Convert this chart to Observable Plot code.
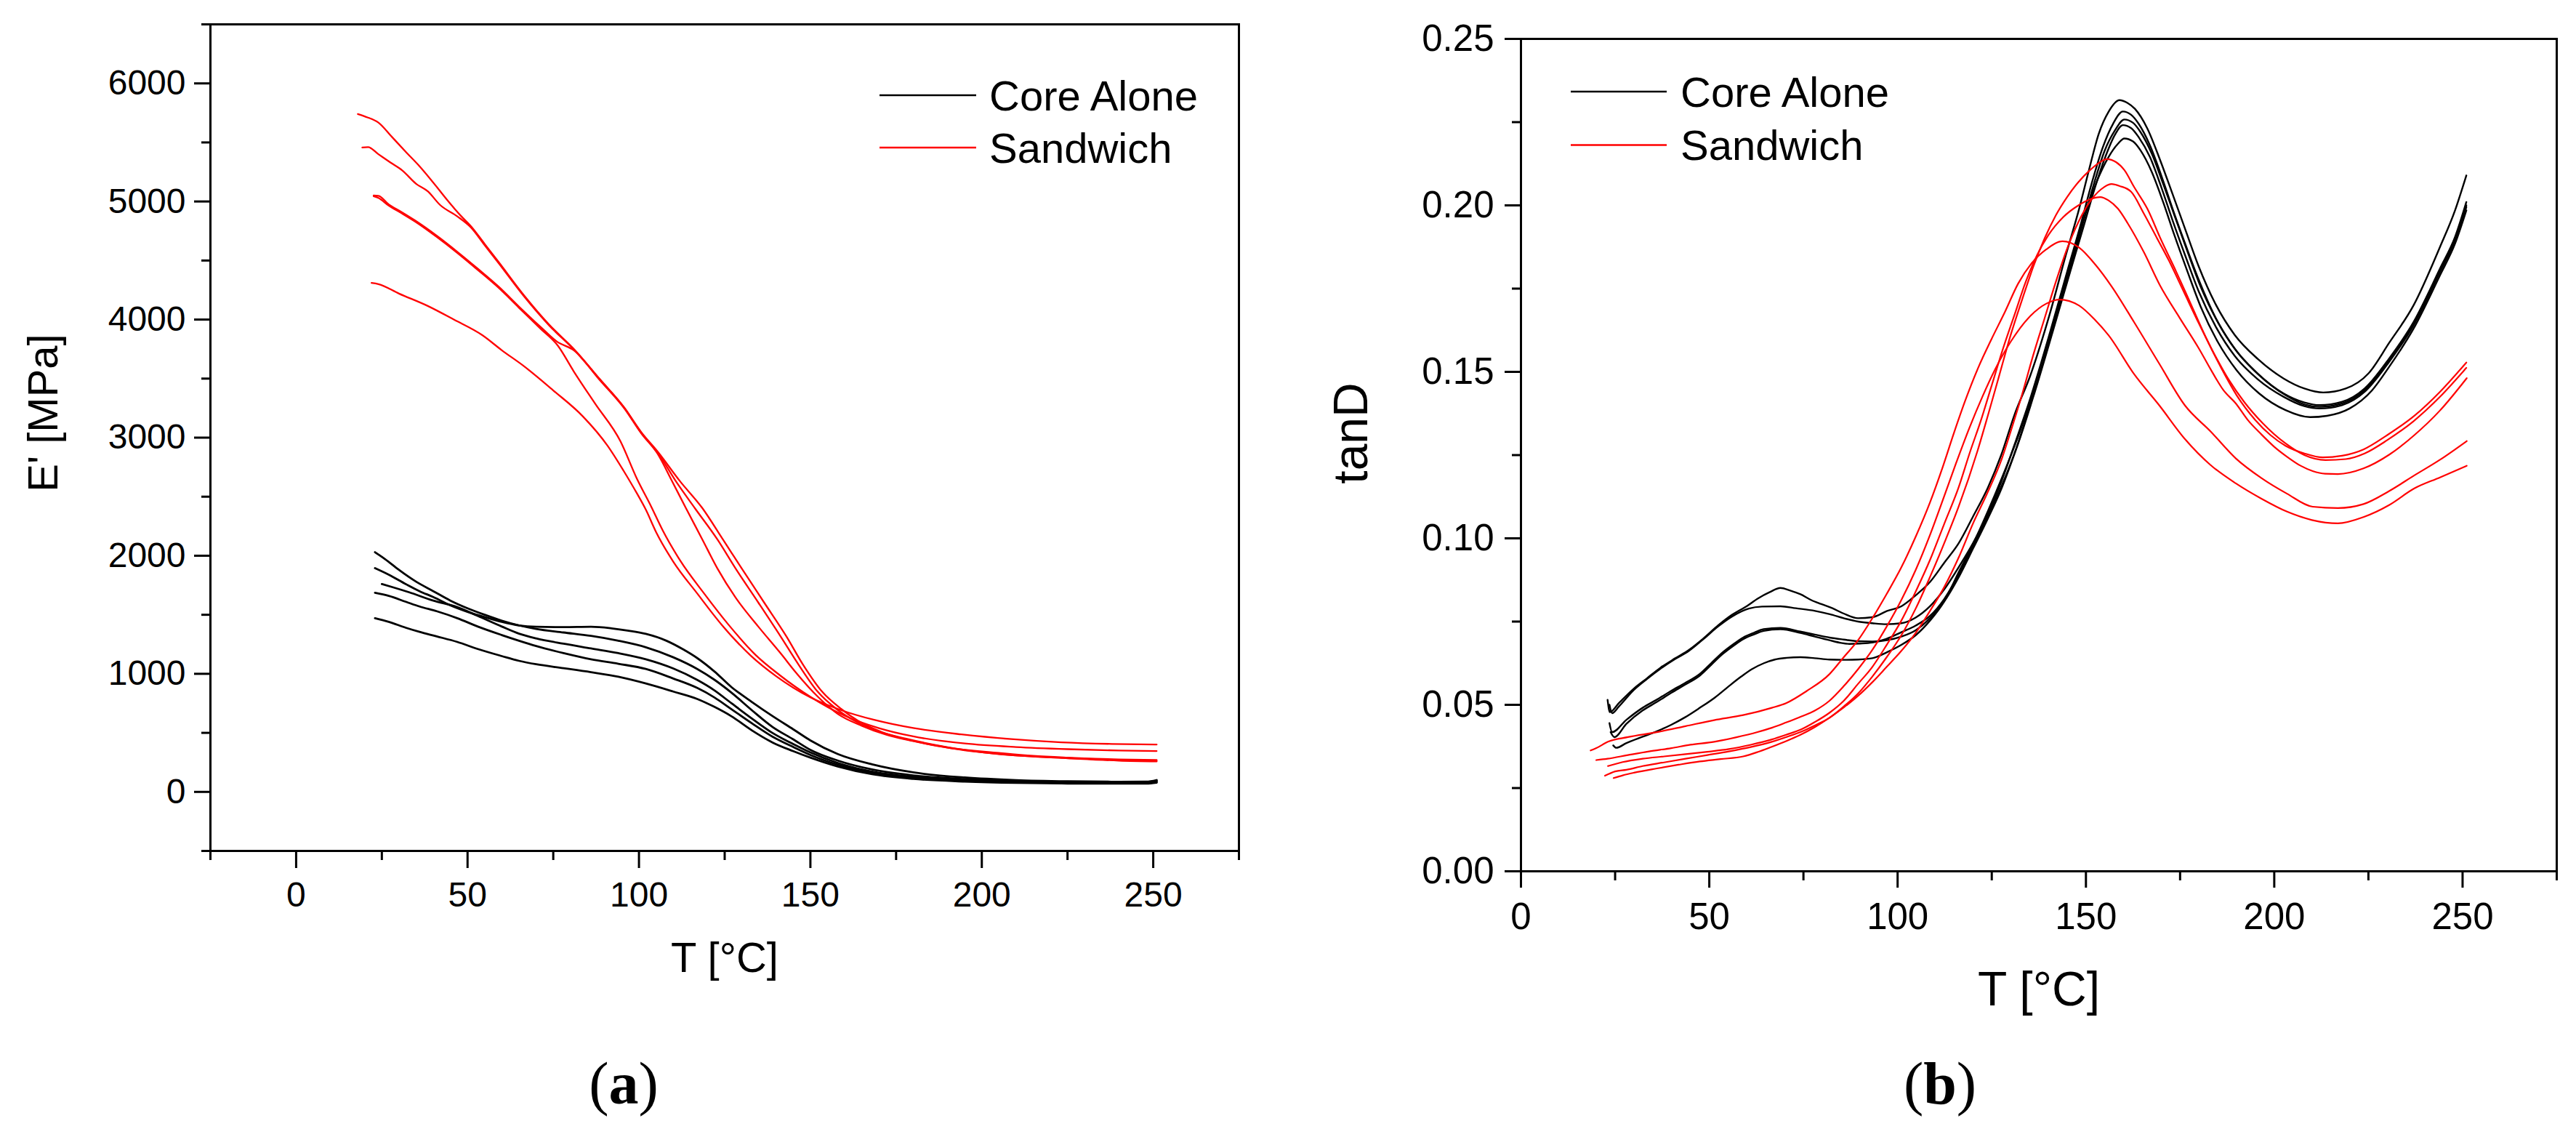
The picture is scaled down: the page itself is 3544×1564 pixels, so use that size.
<!DOCTYPE html>
<html>
<head>
<meta charset="utf-8">
<script src="https://cdn.jsdelivr.net/npm/d3@7"></script>
<script src="https://cdn.jsdelivr.net/npm/@observablehq/plot@0.6"></script>
<style>
html,body{margin:0;padding:0;background:#fff;}
#page{position:relative;width:3544px;height:1564px;overflow:hidden;background:#fff;color:#000;font-family:"Liberation Sans",Arial,sans-serif;}
.panel{position:absolute;top:0;}
#cap{position:absolute;left:0;top:1400px;}
</style>
</head>
<body>
<div id="page">
  <div id="pa" class="panel" style="left:0px"></div>
  <div id="pb" class="panel" style="left:1772px"></div>
  <svg id="cap" width="3544" height="164"></svg>
</div>
<script>
// ---------- Panel (a): storage modulus E' [MPa] vs T [°C] ----------
const xTicksA = [0, 50, 100, 150, 200, 250];
const xMinorA = [-25, 25, 75, 125, 175, 225, 275];
const yTicksA = [0, 1000, 2000, 3000, 4000, 5000, 6000];
const yMinorA = [-500, 500, 1500, 2500, 3500, 4500, 5500, 6500];

const eCore1 = [[23,2030],[26,1970],[30,1880],[35,1780],[40,1700],[45,1620],[50,1555],[55,1500],[60,1450],[65,1410],[70,1380],[78,1350],[86,1321],[94,1280],[102,1225],[110,1140],[117,1041],[122,950],[127,840],[133,690],[139,549],[145,445],[150,356],[158,265],[168,190],[180,140],[195,108],[210,92],[225,85],[240,82],[248,83],[251,95]];
const eCore2 = [[23,1895],[27,1840],[32,1760],[36,1700],[40,1650],[45,1580],[50,1525],[55,1480],[60,1440],[65,1410],[70,1398],[78,1395],[86,1398],[92,1385],[97,1365],[102,1338],[108,1280],[113,1205],[117,1133],[122,1020],[127,887],[133,760],[139,641],[145,530],[150,436],[158,320],[168,233],[180,165],[195,122],[210,100],[225,90],[240,86],[248,87],[251,100]];
const eCore3 = [[25,1760],[28,1735],[33,1690],[40,1620],[47,1565],[53,1490],[60,1400],[65,1340],[70,1300],[78,1255],[86,1215],[94,1175],[102,1123],[110,1045],[117,948],[122,860],[127,750],[133,620],[139,498],[145,405],[150,334],[158,245],[168,172],[180,128],[195,100],[210,86],[225,80],[240,78],[248,78],[251,88]];
const eCore4 = [[23,1686],[27,1660],[32,1610],[36,1570],[41,1530],[47,1471],[53,1400],[60,1328],[65,1280],[70,1235],[78,1175],[86,1123],[94,1085],[102,1041],[110,960],[117,880],[122,800],[127,700],[133,580],[139,467],[145,380],[150,313],[158,230],[168,160],[180,120],[195,95],[210,82],[225,76],[240,74],[248,74],[251,82]];
const eCore5 = [[23,1471],[27,1440],[32,1390],[36,1355],[41,1317],[47,1270],[53,1210],[60,1150],[65,1110],[70,1081],[78,1048],[86,1014],[94,975],[102,918],[110,850],[117,787],[122,720],[127,640],[133,520],[139,418],[145,345],[150,290],[158,215],[168,150],[180,110],[195,88],[210,76],[225,71],[240,70],[248,70],[251,78]];

const eSand1 = [[18,5740],[20,5720],[24,5668],[28,5545],[32,5420],[36,5298],[40,5160],[44,5015],[48,4880],[51,4790],[55,4640],[59,4490],[66.5,4204],[73.8,3957],[81.2,3745],[88.5,3498],[95.8,3251],[100.7,3039],[105.5,2870],[111,2620],[116.3,2403],[122.9,2137],[128.2,1891],[134.8,1604],[141.3,1317],[146.7,1071],[152.2,846],[157.6,702],[163,600],[170,510],[178,450],[186,400],[195,355],[205,320],[215,300],[225,287],[240,270],[251,264]];
const eSand2 = [[19.3,5457],[21,5460],[24,5400],[27.5,5330],[31,5262],[35,5150],[38.4,5086],[42,4970],[47,4874],[51,4780],[55,4630],[59,4480],[66.5,4195],[73.8,3950],[81.2,3740],[88.5,3495],[95.8,3250],[100.7,3045],[105.5,2880],[112,2630],[118.5,2403],[124.5,2137],[130,1891],[136.5,1604],[143,1317],[148,1071],[153.5,846],[159,702],[164,600],[171,505],[178,445],[186,396],[195,352],[205,322],[215,300],[225,285],[240,265],[251,258]];
const eSand3 = [[22.6,5050],[24,5048],[27,4975],[30.5,4915],[34.7,4839],[41,4710],[47,4574],[53,4430],[59.2,4275],[65,4110],[71.4,3935],[76,3815],[81.2,3735],[88.5,3490],[95.8,3245],[100.7,3035],[105.5,2860],[109.5,2640],[113.7,2403],[118.5,2137],[122.9,1891],[128.2,1645],[134.8,1400],[141.3,1174],[145.8,1010],[152.2,805],[158,660],[165,560],[172,485],[180,430],[190,375],[205,330],[215,305],[225,290],[240,275],[251,270]];
const eSand4 = [[22.6,5045],[24,5030],[27,4965],[30.5,4905],[34.7,4830],[41,4700],[47,4565],[53,4420],[59.2,4265],[65,4100],[71.4,3920],[76.3,3780],[81,3560],[87.2,3288],[94.6,2969],[99.4,2652],[103.5,2420],[107,2210],[112,1960],[119,1680],[126,1420],[134,1160],[141,990],[150,805],[160,645],[170,540],[180,470],[195,410],[210,380],[225,362],[240,350],[251,346]];
const eSand5 = [[22,4310],[24,4300],[30,4220],[38.4,4115],[46,4000],[54.3,3868],[60,3740],[66.5,3604],[75,3400],[83.6,3181],[90.8,2933],[95.5,2720],[99.4,2528],[102,2390],[105,2200],[110,1950],[117,1680],[124,1420],[132.6,1154],[140,980],[150,800],[158.9,693],[168.6,610],[180.3,539],[194,487],[208.6,447],[223.2,420],[237.9,406],[251,401]];

// ---------- Panel (b): tanD vs T [°C] ----------
const xTicksB = [0, 50, 100, 150, 200, 250];
const xMinorB = [25, 75, 125, 175, 225, 275];
const yTicksB = [0, 0.05, 0.10, 0.15, 0.20, 0.25];
const yMinorB = [0.025, 0.075, 0.125, 0.175, 0.225];

const dCore1 = [[23,0.0515],[23.6,0.0478],[26,0.0505],[30,0.0549],[33.5,0.058],[37,0.0611],[41,0.064],[44.6,0.0665],[48.5,0.070],[52.3,0.0738],[56,0.077],[59.9,0.0796],[63,0.082],[66,0.0838],[68.9,0.0851],[71.5,0.0843],[74.2,0.0832],[77,0.0815],[79.6,0.0803],[82.7,0.079],[85.7,0.0774],[89.5,0.076],[93.3,0.0763],[97.2,0.0782],[101,0.0796],[104.8,0.0829],[108.6,0.0869],[112.4,0.0927],[116.2,0.0985],[120,0.1065],[124,0.1153],[127.5,0.125],[131,0.137],[135.2,0.1488],[140.3,0.167],[144.7,0.1852],[148.2,0.199],[150.8,0.2106],[153.4,0.2215],[156,0.2281],[158.9,0.2316],[161,0.2308],[163,0.229],[166.3,0.2231],[169.7,0.2136],[173,0.2034],[176.5,0.1924],[180,0.1815],[184.3,0.1706],[189.5,0.1611],[195.6,0.1539],[202.5,0.148],[208,0.145],[213,0.1438],[219,0.145],[225,0.1495],[230.5,0.1587],[237,0.170],[244,0.1875],[248,0.1985],[251,0.209]];
const dCore2 = [[23.5,0.0500],[24.2,0.0475],[26,0.0495],[30,0.0545],[33.5,0.0578],[37,0.0608],[41,0.0638],[44.6,0.0662],[48.5,0.0698],[52.3,0.0735],[56,0.0765],[60.5,0.0789],[64,0.0795],[68.9,0.0796],[73,0.079],[78.1,0.0782],[82,0.0772],[85.7,0.076],[89.5,0.075],[93.3,0.0745],[97,0.0742],[101,0.0745],[104.8,0.0762],[108.6,0.0796],[112.4,0.0847],[116.2,0.0913],[120,0.0985],[124,0.1073],[127.7,0.1175],[131,0.128],[135.5,0.143],[140.5,0.162],[145,0.180],[148.8,0.195],[151.5,0.2065],[154.5,0.2175],[157.2,0.2245],[159.8,0.2282],[162,0.2272],[164,0.2245],[167,0.218],[170,0.209],[173,0.199],[176.5,0.188],[180,0.1775],[184.3,0.1665],[189.5,0.157],[195.6,0.1495],[202.5,0.1435],[208,0.1408],[212,0.140],[218,0.141],[224,0.145],[230.5,0.154],[237,0.165],[244,0.181],[248,0.1905],[251,0.201]];
const dCore3 = [[23.5,0.0445],[24.2,0.0418],[28,0.0455],[32.3,0.0491],[36,0.0515],[39.9,0.0542],[43.5,0.0565],[47.5,0.0593],[50.5,0.0625],[53.6,0.0658],[56.5,0.0683],[59,0.0702],[62,0.0717],[64.4,0.0727],[68.9,0.0731],[74.2,0.072],[78,0.0711],[81.9,0.0702],[85.7,0.0696],[89.5,0.0691],[93.3,0.069],[97.2,0.0694],[101,0.0705],[104.8,0.0724],[108.6,0.076],[112.4,0.0811],[116.2,0.0883],[120.1,0.0971],[123.9,0.1058],[127.7,0.1153],[131.5,0.127],[136,0.143],[141,0.162],[145.5,0.180],[149.3,0.195],[152,0.206],[155,0.2165],[157.7,0.2225],[160.2,0.2258],[162.5,0.2248],[164.5,0.222],[167.5,0.2155],[170.5,0.2065],[173.5,0.197],[177,0.186],[180.5,0.1755],[185,0.165],[190,0.1562],[196,0.149],[203,0.143],[208,0.1402],[212,0.1395],[218,0.1405],[224,0.1445],[230.5,0.1535],[237,0.1645],[244,0.1805],[248,0.190],[251,0.200]];
const dCore4 = [[23.8,0.0418],[24.8,0.0403],[28,0.0443],[32.3,0.0483],[36,0.0508],[39.9,0.0536],[43.5,0.056],[47.5,0.0588],[50.5,0.062],[53.6,0.0653],[56.5,0.0678],[59,0.0697],[62,0.0712],[64.4,0.0722],[68.9,0.0727],[74.2,0.0716],[78,0.0705],[81.9,0.0694],[85,0.0686],[87.2,0.0683],[90,0.0684],[93.3,0.0687],[97,0.0698],[101,0.0718],[104.8,0.0738],[108.6,0.0767],[112.4,0.0818],[116.2,0.0891],[120.1,0.0978],[123.9,0.1065],[127.7,0.116],[131.7,0.1275],[136.3,0.1435],[141.3,0.1625],[145.8,0.180],[149.6,0.1945],[152.3,0.205],[155.3,0.215],[157.7,0.2212],[159.8,0.2241],[162,0.2232],[164,0.2205],[167,0.2145],[170,0.2055],[173,0.1955],[176.5,0.1845],[180,0.174],[184.5,0.1635],[189.5,0.1548],[195.6,0.1478],[202.5,0.1425],[208,0.1397],[212,0.139],[218,0.140],[224,0.144],[230.5,0.153],[237,0.164],[244,0.180],[248,0.1895],[251,0.1995]];
const dCore5 = [[24.5,0.0378],[25.3,0.0371],[28,0.0385],[32.3,0.0404],[36,0.042],[39.9,0.044],[43.5,0.0462],[47.5,0.0491],[51.5,0.0522],[55.2,0.0556],[58.5,0.0585],[61.3,0.0607],[64.5,0.0625],[67.4,0.0636],[70.5,0.0641],[74.2,0.0643],[78,0.064],[81.9,0.0636],[85.7,0.0635],[89.5,0.0636],[93.3,0.064],[97.2,0.0658],[101,0.068],[104.8,0.0709],[108.6,0.0753],[112.4,0.0811],[116.2,0.0898],[120.1,0.0985],[123.9,0.108],[127.7,0.1182],[132,0.1306],[137.5,0.1488],[142,0.167],[146.5,0.1852],[150,0.198],[153,0.2075],[156,0.2145],[158.5,0.2185],[160.2,0.2201],[162.5,0.2192],[164.5,0.2165],[167.5,0.210],[170.5,0.201],[173.5,0.191],[177,0.180],[180.5,0.1695],[185,0.159],[190,0.1505],[196,0.1435],[203,0.1385],[209.5,0.1364],[214,0.1368],[220,0.139],[226,0.1445],[230.5,0.1515],[237,0.163],[244,0.179],[248,0.1885],[251,0.1985]];

const dSand1 = [[22.3,0.0287],[25,0.030],[28,0.0305],[32.3,0.0316],[38,0.0327],[43.7,0.0338],[49.5,0.0349],[55.2,0.036],[61,0.0373],[66.6,0.0389],[70.4,0.0403],[74.2,0.0418],[78,0.0438],[81.9,0.0461],[85.7,0.0495],[89.5,0.0534],[93.3,0.0585],[97.1,0.0643],[101,0.0709],[104.8,0.0789],[108.6,0.0884],[112.4,0.0986],[116.2,0.1095],[121.2,0.1262],[124,0.137],[127,0.149],[130,0.161],[133,0.1715],[136,0.1815],[139,0.190],[142,0.197],[145,0.2025],[148,0.207],[151,0.2105],[153.5,0.2128],[155.5,0.2139],[158,0.213],[160.2,0.2106],[162.8,0.2055],[166.3,0.199],[169.7,0.1903],[174,0.180],[178,0.170],[182,0.160],[186,0.151],[190,0.143],[195,0.1355],[199,0.131],[203,0.1278],[208,0.1255],[212.9,0.1243],[218,0.1248],[223.7,0.1267],[230,0.131],[237.2,0.1368],[244,0.144],[251,0.1528]];
const dSand2 = [[24.6,0.028],[27,0.0288],[30,0.0296],[36.1,0.0309],[41.8,0.032],[47.5,0.033],[53,0.0337],[59,0.0345],[62.8,0.0358],[66.6,0.0374],[70.4,0.0391],[74.2,0.041],[78,0.0433],[81.9,0.0461],[85.7,0.0492],[89.5,0.0527],[93.3,0.0568],[97.1,0.0614],[101,0.0662],[104.8,0.0716],[108.6,0.0782],[112.4,0.0854],[116.2,0.0942],[120,0.1044],[123.9,0.1138],[127.7,0.124],[130,0.132],[133,0.143],[136,0.155],[139,0.166],[142,0.177],[145,0.187],[148,0.195],[151,0.201],[154,0.2048],[156.8,0.2064],[159,0.2058],[162,0.2041],[165.4,0.1975],[168.8,0.1903],[172,0.1835],[176,0.174],[180,0.1645],[184,0.1555],[188,0.1475],[192,0.141],[197,0.1345],[203,0.1285],[208,0.125],[213.6,0.1235],[219,0.1238],[224,0.1255],[230,0.1295],[237,0.1352],[244,0.1425],[251,0.1512]];
const dSand3 = [[23.1,0.0316],[27,0.0328],[32.3,0.0338],[38,0.0345],[43.7,0.0352],[49.5,0.0359],[55.2,0.0367],[61,0.038],[66.6,0.0396],[70.4,0.041],[74.2,0.0425],[78,0.0448],[81.9,0.0476],[85.7,0.0512],[89.5,0.0563],[93.3,0.0614],[97.1,0.068],[101,0.0753],[104.8,0.084],[108.6,0.0935],[112.4,0.1044],[116.2,0.1153],[119.3,0.1262],[122,0.135],[125,0.146],[128,0.157],[131,0.167],[134,0.177],[137,0.185],[140,0.191],[144,0.1965],[148,0.200],[151,0.2018],[153.8,0.2025],[156,0.2015],[158.5,0.199],[161.1,0.1946],[165.4,0.1859],[169.6,0.1761],[174.9,0.1662],[180,0.157],[183.1,0.1508],[186.5,0.1445],[189.8,0.1405],[193,0.1355],[196.6,0.1312],[200,0.1275],[203.4,0.1245],[207,0.1218],[210.2,0.1202],[213.5,0.1194],[216.9,0.1193],[223.7,0.121],[230.5,0.1251],[237.2,0.131],[244,0.1384],[251.1,0.1481]];
const dSand4 = [[18.5,0.0363],[20,0.037],[23.1,0.0389],[28.4,0.0403],[36.1,0.0418],[43.7,0.0436],[51.3,0.0454],[59,0.0469],[66.6,0.0491],[70.4,0.0505],[75.8,0.0541],[81.9,0.0592],[85.7,0.0643],[89.5,0.0694],[93.3,0.076],[97.1,0.0833],[101,0.0913],[104.8,0.1005],[108.6,0.1108],[112,0.1215],[115,0.1318],[118,0.1415],[121.5,0.1515],[125,0.1600],[128.5,0.1680],[132,0.1765],[135.5,0.1825],[139.5,0.1868],[143.8,0.1892],[148.2,0.1873],[152.5,0.1822],[156.8,0.1757],[162.8,0.1649],[169.5,0.1524],[176.3,0.1399],[183.1,0.1321],[189.8,0.124],[196.6,0.1181],[203.4,0.1134],[210.2,0.1095],[216.9,0.1091],[223.7,0.1103],[230.5,0.1142],[237.2,0.1189],[244,0.1236],[251.1,0.1292]];
const dSand5 = [[20,0.0334],[23,0.0338],[28.4,0.0349],[34,0.036],[39.9,0.037],[45,0.038],[51.3,0.0389],[57,0.0402],[62.8,0.0418],[66.6,0.0431],[70.4,0.0447],[74,0.0463],[78.1,0.0483],[81.9,0.0512],[85.7,0.0556],[89.5,0.0607],[93.3,0.0665],[97.1,0.0735],[101,0.0815],[104.8,0.0905],[108.6,0.1010],[112,0.1115],[115.5,0.1225],[119,0.1330],[122.5,0.1425],[126,0.1510],[130,0.1590],[135,0.1665],[139.5,0.1705],[143,0.1717],[148.2,0.1699],[152.5,0.1655],[156,0.161],[162.8,0.1493],[169.5,0.1399],[176.3,0.1298],[183.1,0.122],[189.8,0.1165],[196.6,0.1119],[203.4,0.108],[210,0.1055],[216.9,0.1045],[223.7,0.1064],[230.5,0.11],[237.2,0.115],[244,0.1183],[251.1,0.1218]];

const seriesNames = ["Core Alone", "Sandwich"];
const seriesColors = ["#000000", "#ff0000"];

// ---------- helpers ----------
function tidy(runs, group) {
  return runs.flatMap((pts, k) => pts.map(([T, v]) => ({T, v, run: group + k})));
}
const ns = "http://www.w3.org/2000/svg";
function legendMark(o) {
  return (index, scales, values, dims) => {
    const g = document.createElementNS(ns, "g");
    const fx = o.anchor === "right" ? dims.width - dims.marginRight : dims.marginLeft;
    seriesNames.forEach((name, i) => {
      const y = dims.marginTop + o.top + i * o.gap;
      const ln = document.createElementNS(ns, "line");
      ln.setAttribute("x1", fx + o.x1);
      ln.setAttribute("x2", fx + o.x2);
      ln.setAttribute("y1", y);
      ln.setAttribute("y2", y);
      ln.setAttribute("stroke", seriesColors[i]);
      ln.setAttribute("stroke-width", 2.7);
      g.appendChild(ln);
      const t = document.createElementNS(ns, "text");
      t.setAttribute("x", fx + o.tx);
      t.setAttribute("y", y);
      t.setAttribute("dy", "0.36em");
      t.setAttribute("text-anchor", "start");
      t.setAttribute("font-size", o.fontSize);
      t.setAttribute("fill", "#000");
      t.textContent = name;
      g.appendChild(t);
    });
    return g;
  };
}

const baseStyle = {fontFamily: "'Liberation Sans', Arial, sans-serif", background: "white", color: "black", overflow: "visible"};

// ---------- Panel (a) ----------
const coreE = tidy([eCore1, eCore2, eCore3, eCore4, eCore5], "c");
const sandE = tidy([eSand1, eSand2, eSand3, eSand4, eSand5], "s");

const plotA = Plot.plot({
  width: 1772, height: 1400,
  marginLeft: 289, marginRight: 68, marginTop: 33, marginBottom: 230,
  style: baseStyle,
  x: {domain: [-25, 275]},
  y: {domain: [-500, 6500]},
  marks: [
    Plot.line(coreE, {x: "T", y: "v", z: "run", stroke: seriesColors[0], strokeWidth: 2.8, curve: "monotone-x"}),
    Plot.line(sandE, {x: "T", y: "v", z: "run", stroke: seriesColors[1], strokeWidth: 2.3, curve: "monotone-x"}),
    Plot.axisX({ticks: xTicksA, tickSize: 24, tickPadding: 18, fontSize: 48, tickFormat: d => String(d), label: null, strokeWidth: 3}),
    Plot.axisX({ticks: xMinorA, tickSize: 13, tickFormat: () => "", label: null, strokeWidth: 3}),
    Plot.axisY({ticks: yTicksA, tickSize: 22, tickPadding: 12, fontSize: 48, tickFormat: d => String(d), label: null, strokeWidth: 3}),
    Plot.axisY({ticks: yMinorA, tickSize: 12, tickFormat: () => "", label: null, strokeWidth: 3}),
    Plot.frame({strokeWidth: 3}),
    Plot.text(["T [°C]"], {frameAnchor: "bottom", lineAnchor: "bottom", textAnchor: "middle", dy: 166, fontSize: 58, fill: "#000"}),
    Plot.text(["E' [MPa]"], {frameAnchor: "left", lineAnchor: "bottom", textAnchor: "middle", rotate: -90, dx: -211, dy: -34, fontSize: 58, fill: "#000"}),
    legendMark({anchor: "right", top: 98, gap: 72, x1: -494, x2: -361, tx: -343, fontSize: 58})
  ]
});
document.getElementById("pa").appendChild(plotA);

// ---------- Panel (b) ----------
const coreD = tidy([dCore1, dCore2, dCore3, dCore4, dCore5], "c");
const sandD = tidy([dSand1, dSand2, dSand3, dSand4, dSand5], "s");

const plotB = Plot.plot({
  width: 1772, height: 1420,
  marginLeft: 320, marginRight: 27, marginTop: 53, marginBottom: 222,
  style: baseStyle,
  x: {domain: [0, 275]},
  y: {domain: [0, 0.25]},
  marks: [
    Plot.line(coreD, {x: "T", y: "v", z: "run", stroke: seriesColors[0], strokeWidth: 2.4, curve: "monotone-x"}),
    Plot.line(sandD, {x: "T", y: "v", z: "run", stroke: seriesColors[1], strokeWidth: 2.2, curve: "monotone-x"}),
    Plot.axisX({ticks: xTicksB, tickSize: 23, tickPadding: 20, fontSize: 51, tickFormat: d => String(d), label: null, strokeWidth: 3}),
    Plot.axisX({ticks: xMinorB, tickSize: 13, tickFormat: () => "", label: null, strokeWidth: 3}),
    Plot.axisY({ticks: yTicksB, tickSize: 22, tickPadding: 15, fontSize: 51, tickFormat: d3.format(".2f"), label: null, strokeWidth: 3}),
    Plot.axisY({ticks: yMinorB, tickSize: 12, tickFormat: () => "", label: null, strokeWidth: 3}),
    Plot.frame({strokeWidth: 3}),
    Plot.text(["T [°C]"], {frameAnchor: "bottom", lineAnchor: "bottom", textAnchor: "middle", dy: 184, fontSize: 66, fill: "#000"}),
    Plot.text(["tanD"], {frameAnchor: "left", lineAnchor: "bottom", textAnchor: "middle", rotate: -90, dx: -212, dy: -30, fontSize: 66, fill: "#000"}),
    legendMark({anchor: "left", top: 73, gap: 73.5, x1: 69, x2: 201, tx: 220, fontSize: 58})
  ]
});
document.getElementById("pb").appendChild(plotB);

// ---------- captions ----------
const captions = [{x: 858, letter: "a"}, {x: 2669, letter: "b"}];
const cap = document.getElementById("cap");
captions.forEach(c => {
  const t = document.createElementNS(ns, "text");
  t.setAttribute("x", c.x);
  t.setAttribute("y", 118);
  t.setAttribute("text-anchor", "middle");
  t.setAttribute("font-family", "'Liberation Serif', 'Times New Roman', serif");
  t.setAttribute("font-size", 82);
  t.setAttribute("fill", "#000");
  t.appendChild(document.createTextNode("("));
  const b = document.createElementNS(ns, "tspan");
  b.setAttribute("font-weight", "bold");
  b.textContent = c.letter;
  t.appendChild(b);
  t.appendChild(document.createTextNode(")"));
  cap.appendChild(t);
});
</script>
</body>
</html>
